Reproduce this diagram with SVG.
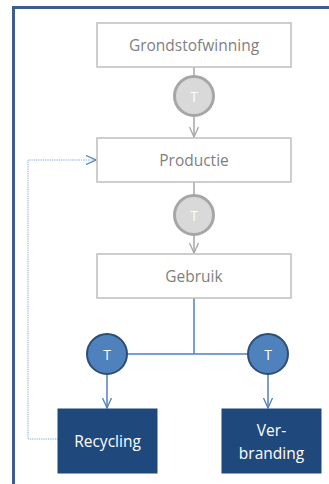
<svg xmlns="http://www.w3.org/2000/svg" width="329" height="484" viewBox="0 0 329 484">
<defs>
<style>
.box{fill:#ffffff;stroke:#bfbfbf;stroke-width:1.5}
.lbl{font-family:"Open Sans","Liberation Sans",sans-serif;font-size:15.5px;fill:#7f7f7f;text-anchor:middle;dominant-baseline:central}
.dark{fill:#1f497d;stroke:#1f497d}
.wl{font-family:"Open Sans","Liberation Sans",sans-serif;font-size:15.5px;fill:#ffffff;text-anchor:middle;dominant-baseline:central}
.tg{fill:#d9d9d9;stroke:#a6a6a6;stroke-width:3}
.tb{fill:#4f81bd;stroke:#2c4d75;stroke-width:2}
.tt{font-family:"Open Sans","Liberation Sans",sans-serif;font-size:14px;fill:#ffffff;text-anchor:middle;dominant-baseline:central}
.gl{stroke:#a6a6a6;stroke-width:1.5;fill:none}
.bl{stroke:#4f81bd;stroke-width:1.5;fill:none}
</style>
<marker id="ag" viewBox="0 0 12 10" refX="11" refY="5" markerWidth="12" markerHeight="10" markerUnits="userSpaceOnUse" orient="auto"><path d="M1,0.5 L11,5 L1,9.5" fill="none" stroke="#a6a6a6" stroke-width="1.3"/></marker>
<marker id="ab" viewBox="0 0 12 10" refX="11" refY="5" markerWidth="12" markerHeight="10" markerUnits="userSpaceOnUse" orient="auto"><path d="M1,0.5 L11,5 L1,9.5" fill="none" stroke="#4f81bd" stroke-width="1.3"/></marker>
</defs>
<rect width="329" height="484" fill="#ffffff"/>
<path d="M13.5,484 V7.5 H329" fill="none" stroke="#3c5f8f" stroke-width="3"/>
<g id="connectors">
<line class="gl" x1="194" y1="67" x2="194" y2="76"/>
<line class="gl" x1="194" y1="117" x2="194" y2="137" marker-end="url(#ag)"/>
<line class="gl" x1="194" y1="182" x2="194" y2="195"/>
<line class="gl" x1="194" y1="236" x2="194" y2="253" marker-end="url(#ag)"/>
<line class="bl" x1="194" y1="298" x2="194" y2="354"/>
<line class="bl" x1="127" y1="354" x2="248" y2="354"/>
<line class="bl" x1="107" y1="374" x2="107" y2="408" marker-end="url(#ab)"/>
<line class="bl" x1="268" y1="374" x2="268" y2="408" marker-end="url(#ab)"/>
<path d="M58,439 H28 V160 H96" fill="none" stroke="#7fa6dc" stroke-width="1" stroke-dasharray="1,0.8" marker-end="url(#ab)"/>
</g>
<g id="grondstofwinning"><rect class="box" x="97" y="23" width="194" height="44"/><text class="lbl" x="194" y="45">Grondstofwinning</text></g>
<g id="t1"><circle class="tg" cx="194" cy="96" r="19.5"/><text class="tt" x="194" y="96">T</text></g>
<g id="productie"><rect class="box" x="97" y="138" width="194" height="44"/><text class="lbl" x="194" y="160">Productie</text></g>
<g id="t2"><circle class="tg" cx="194" cy="215" r="19.5"/><text class="tt" x="194" y="215">T</text></g>
<g id="gebruik"><rect class="box" x="97" y="254" width="194" height="44"/><text class="lbl" x="194" y="276">Gebruik</text></g>
<g id="t3"><circle class="tb" cx="107" cy="354" r="20"/><text class="tt" x="107" y="354">T</text></g>
<g id="t4"><circle class="tb" cx="268" cy="354" r="20"/><text class="tt" x="268" y="354">T</text></g>
<g id="recycling"><rect class="dark" x="58" y="409" width="99" height="64"/><text class="wl" x="107.5" y="441">Recycling</text></g>
<g id="verbranding"><rect class="dark" x="222" y="409" width="99" height="64"/><text class="wl" x="271.5" y="430">Ver-</text><text class="wl" x="271.5" y="453">branding</text></g>
</svg>
